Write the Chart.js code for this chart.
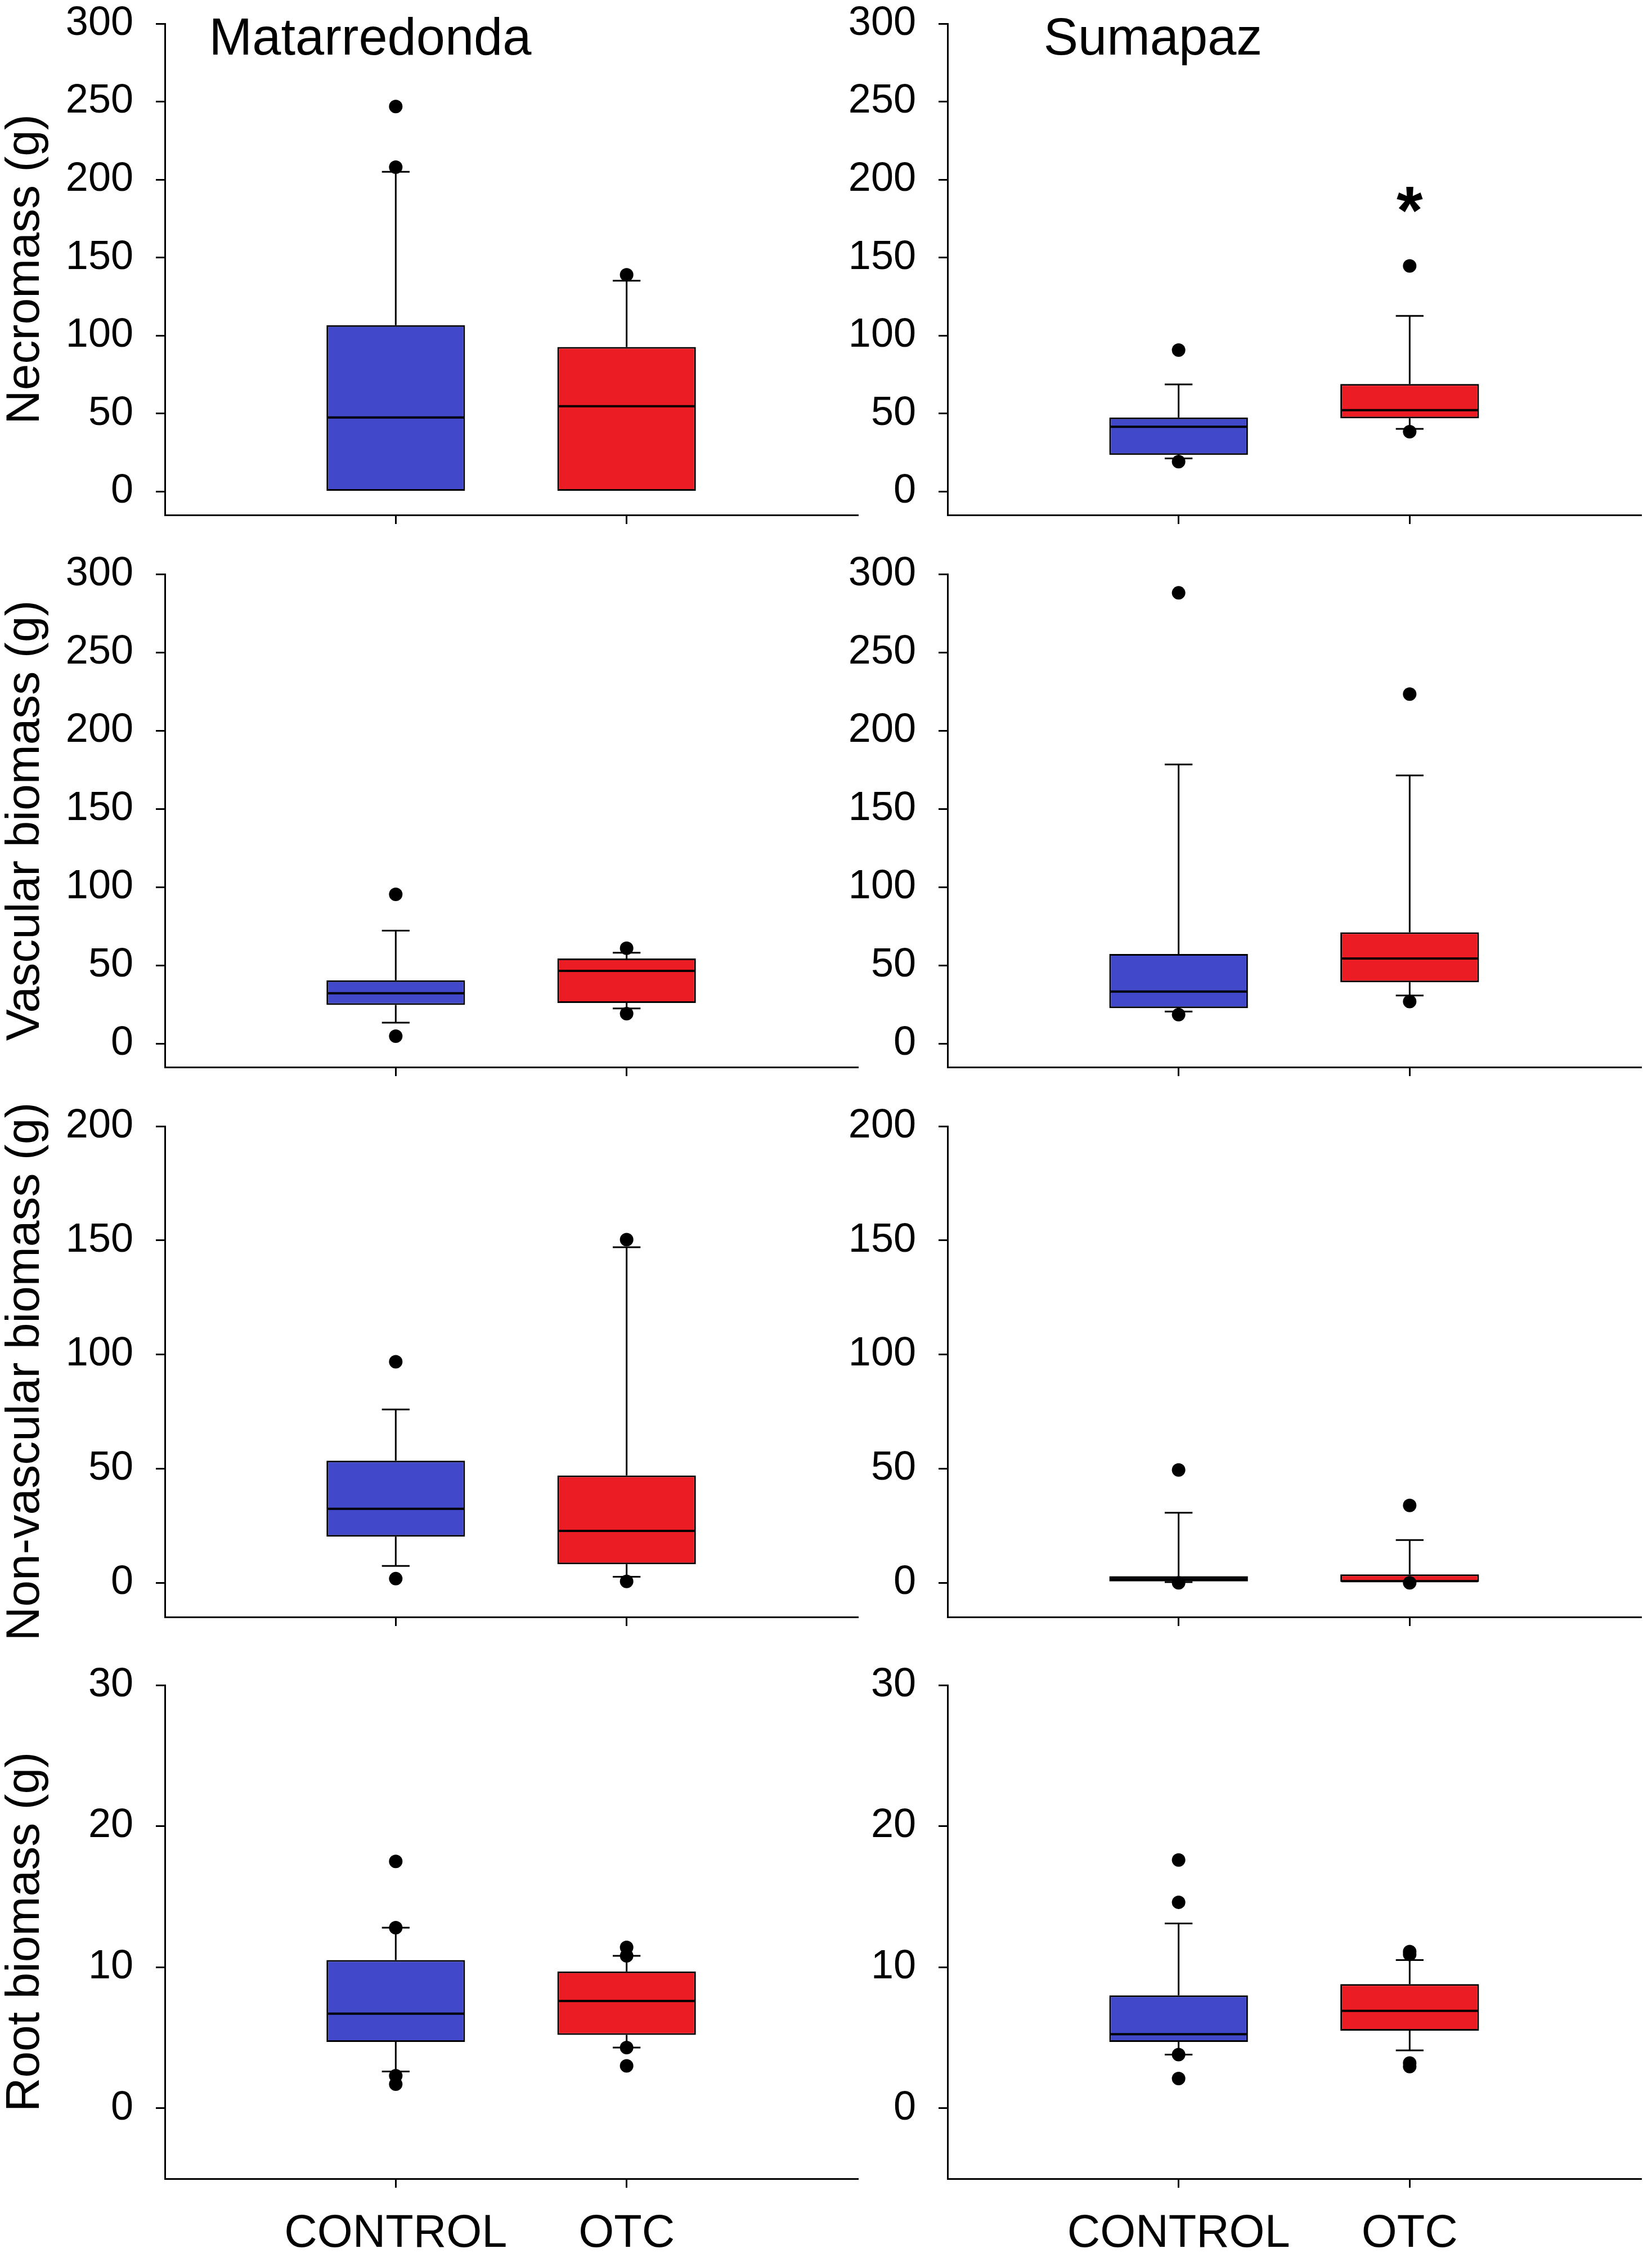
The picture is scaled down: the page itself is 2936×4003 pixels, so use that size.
<!DOCTYPE html>
<html>
<head>
<meta charset="utf-8">
<script src="https://cdn.jsdelivr.net/npm/chart.js@4.4.1/dist/chart.umd.min.js"></script>
<style>
  html, body { margin: 0; padding: 0; background: #fff; }
  #page { position: relative; width: 2936px; height: 4003px; overflow: hidden; background: #fff; }
  #page canvas { position: absolute; }
</style>
</head>
<body>
<div id="page"></div>
<script>
// x axis groups and panel names
const groups = ['CONTROL', 'OTC'];
const sites = ['Matarredonda', 'Sumapaz'];
const measures = ['Necromass (g)', 'Vascular biomass (g)', 'Non-vascular biomass (g)', 'Root biomass (g)'];

// one entry per panel, row by row (Matarredonda, Sumapaz); each entry is [CONTROL, OTC]
const whiskerLow = [
    [0, 0], [21.3, 40.2],
    [13.4, 22.5], [20.5, 30.8],
    [7.4, 2.6], [0.3, 0],
    [2.6, 4.3], [3.8, 4.1]
];
const q1 = [
    [0, 0], [23.5, 47],
    [24.7, 26], [22.7, 39.2],
    [20.2, 8.1], [0.6, 0],
    [4.7, 5.2], [4.7, 5.5]
];
const medians = [
    [47.5, 54.7], [41.6, 52.2],
    [32.2, 46.5], [33.3, 54.4],
    [32.4, 22.7], [1.7, 0.7],
    [6.7, 7.6], [5.25, 6.9]
];
const q3 = [
    [106.7, 92.7], [47.5, 69],
    [40.5, 54.4], [57.3, 71.1],
    [53.5, 47], [2.9, 3.7],
    [10.5, 9.7], [8.0, 8.8]
];
const whiskerHigh = [
    [205, 135.2], [68.7, 112.6],
    [72.2, 58.1], [178.4, 171.4],
    [75.9, 147], [30.7, 18.7],
    [12.8, 10.8], [13.1, 10.5]
];
const outliers = [
    [[246.9, 208], [139]], [[90.7, 19.2], [144.7, 38.4]],
    [[95.4, 4.8], [61, 19.2]], [[288, 18.5], [223.3, 26.9]],
    [[96.8, 1.8], [150.3, 0.6]], [[49.4, 0], [33.9, 0]],
    [[17.5, 12.8, 2.3, 1.7], [11.4, 10.8, 4.3, 3.0]],
    [[17.6, 14.6, 3.8, 2.1], [11.1, 10.9, 3.2, 2.95]]
];
// significance marks: panel, group, value
const marks = [[1, 'OTC', 188, '*']];

// y axes, one per row
const yMinByRow = [-15, -15, -15, -5];
const yMaxByRow = [300, 300, 200, 30];
const yTicksByRow = [
    [0, 50, 100, 150, 200, 250, 300],
    [0, 50, 100, 150, 200, 250, 300],
    [0, 50, 100, 150, 200],
    [0, 10, 20, 30]
];

const boxColors = ['#4148C9', '#EC1C24'];
const FONT = "'Liberation Sans', Arial, sans-serif";

// page layout (pixels)
const rowTop = [42, 1020, 2001, 2994];
const rowBottom = [915, 1896, 2873, 3871];
const colLeft = [0, 1400];
const colWidth = [1554, 1546];
const axisWidth = [293, 284];
const PAD_TOP = 50;
const PAD_RIGHT = 30;

const boxPlotParts = {
    id: 'boxPlotParts',
    beforeDatasetsDraw(chart, args, opts) {
        const p = opts.panel;
        const ctx = chart.ctx;
        const y = chart.scales.y;
        const bars = chart.getDatasetMeta(0).data;
        ctx.save();
        ctx.strokeStyle = '#000';
        ctx.lineWidth = 3;
        groups.forEach((g, i) => {
            const bar = bars[i + 1];
            const cx = bar.x;
            const cap = bar.width * 0.1;
            [[q1[p][i], whiskerLow[p][i]], [q3[p][i], whiskerHigh[p][i]]].forEach(([from, to]) => {
                if (from === to) return;
                const y0 = y.getPixelForValue(from);
                const y1 = y.getPixelForValue(to);
                ctx.beginPath();
                ctx.moveTo(cx, y0);
                ctx.lineTo(cx, y1);
                ctx.moveTo(cx - cap, y1);
                ctx.lineTo(cx + cap, y1);
                ctx.stroke();
            });
        });
        ctx.restore();
    },
    afterDatasetsDraw(chart, args, opts) {
        const p = opts.panel;
        const ctx = chart.ctx;
        const x = chart.scales.x;
        const y = chart.scales.y;
        const bars = chart.getDatasetMeta(0).data;
        ctx.save();
        // medians
        ctx.strokeStyle = '#000';
        ctx.lineWidth = 4;
        groups.forEach((g, i) => {
            const bar = bars[i + 1];
            const my = y.getPixelForValue(medians[p][i]);
            ctx.beginPath();
            ctx.moveTo(bar.x - bar.width / 2 + 2, my);
            ctx.lineTo(bar.x + bar.width / 2 - 2, my);
            ctx.stroke();
        });
        // significance marks
        ctx.fillStyle = '#000';
        marks.filter(m => m[0] === p).forEach(m => {
            const size = 120;
            ctx.font = 'bold ' + size + 'px ' + FONT;
            ctx.textAlign = 'center';
            ctx.textBaseline = 'alphabetic';
            const mx = x.getPixelForValue(x.getLabels().indexOf(m[1]));
            ctx.fillText(m[3], mx, y.getPixelForValue(m[2]) + size * 0.52);
        });
        // site name on the top row
        if (p < 2) {
            ctx.font = '92px ' + FONT;
            ctx.textAlign = 'center';
            ctx.textBaseline = 'alphabetic';
            ctx.fillText(sites[p], chart.chartArea.left + 365, chart.chartArea.top + 55);
        }
        ctx.restore();
    }
};

const page = document.getElementById('page');

for (let p = 0; p < 8; p++) {
    const r = Math.floor(p / 2);
    const c = p % 2;
    const bottomRow = r === 3;
    const xHeight = bottomRow ? 132 : 60;
    const canvas = document.createElement('canvas');
    const w = colWidth[c];
    const h = rowBottom[r] - rowTop[r] + PAD_TOP + xHeight;
    canvas.width = w;
    canvas.height = h;
    canvas.style.width = w + 'px';
    canvas.style.height = h + 'px';
    canvas.style.left = colLeft[c] + 'px';
    canvas.style.top = (rowTop[r] - PAD_TOP) + 'px';
    page.appendChild(canvas);

    const labels = [''].concat(groups, ['']);
    const outlierPoints = [];
    groups.forEach((g, i) => outliers[p][i].forEach(v => outlierPoints.push({ x: g, y: v })));

    new Chart(canvas, {
        data: {
            labels: labels,
            datasets: [
                {
                    type: 'bar',
                    data: [null, [q1[p][0], q3[p][0]], [q1[p][1], q3[p][1]], null],
                    backgroundColor: ['rgba(0,0,0,0)', boxColors[0], boxColors[1], 'rgba(0,0,0,0)'],
                    borderColor: '#000',
                    borderWidth: 3,
                    borderSkipped: false,
                    barPercentage: 0.6,
                    categoryPercentage: 1,
                    order: 2
                },
                {
                    type: 'line',
                    data: outlierPoints,
                    showLine: false,
                    pointRadius: 12,
                    pointBackgroundColor: '#000',
                    pointBorderWidth: 0,
                    order: 1
                }
            ]
        },
        options: {
            responsive: false,
            animation: false,
            devicePixelRatio: 1,
            layout: { padding: { top: PAD_TOP, right: PAD_RIGHT, left: 0, bottom: 0 } },
            plugins: {
                legend: { display: false },
                tooltip: { enabled: false },
                boxPlotParts: { panel: p }
            },
            scales: {
                x: {
                    type: 'category',
                    offset: false,
                    grid: {
                        display: true,
                        drawOnChartArea: false,
                        drawTicks: true,
                        tickLength: 16,
                        offset: false,
                        lineWidth: 3,
                        color: ctx => (ctx.index === 1 || ctx.index === 2) ? '#000' : 'rgba(0,0,0,0)'
                    },
                    border: { display: true, color: '#000', width: 3 },
                    ticks: {
                        autoSkip: false,
                        maxRotation: 0,
                        minRotation: 0,
                        padding: 34,
                        color: '#000',
                        font: { family: FONT, size: 81 },
                        callback: function(value, index) {
                            return bottomRow ? labels[index] : '';
                        }
                    },
                    afterFit: s => {
                        s.height = xHeight;
                        s.paddingLeft = 0;
                        s.paddingRight = 0;
                    }
                },
                y: {
                    type: 'linear',
                    min: yMinByRow[r],
                    max: yMaxByRow[r],
                    grid: {
                        display: true,
                        drawOnChartArea: false,
                        drawTicks: true,
                        tickLength: 16,
                        lineWidth: 3,
                        color: '#000'
                    },
                    border: { display: true, color: '#000', width: 3 },
                    ticks: {
                        padding: 40,
                        color: '#000',
                        font: { family: FONT, size: 72, lineHeight: 1 }
                    },
                    title: {
                        display: c === 0,
                        text: measures[r],
                        color: '#000',
                        padding: { top: 4, bottom: 0 },
                        font: { family: FONT, size: 84, lineHeight: 1 }
                    },
                    afterBuildTicks: s => {
                        s.ticks = yTicksByRow[r].map(v => ({ value: v }));
                    },
                    afterFit: s => {
                        s.width = axisWidth[c];
                        s.paddingTop = 0;
                        s.paddingBottom = 0;
                    }
                }
            }
        },
        plugins: [boxPlotParts]
    });
}
</script>
</body>
</html>
